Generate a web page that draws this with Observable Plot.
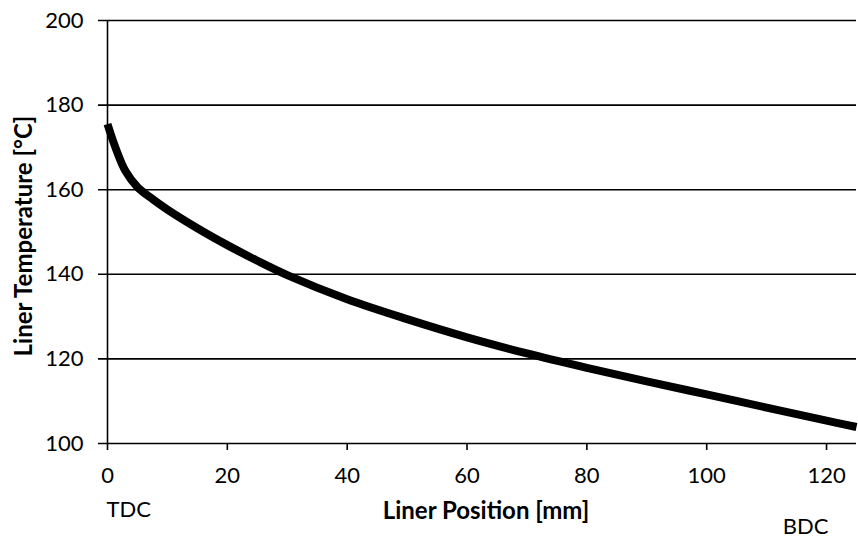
<!DOCTYPE html>
<html>
<head>
<meta charset="utf-8">
<script src="https://cdn.jsdelivr.net/npm/d3@7"></script>
<script src="https://cdn.jsdelivr.net/npm/@observablehq/plot@0.6"></script>
<style>
  html, body { margin: 0; padding: 0; background: #fff; }
  #chart svg { display: block; }
</style>
</head>
<body>
<div id="chart"></div>
<script>
// Liner temperature along the stroke, from TDC (0 mm) to BDC (125 mm)
const linerPosition = [0, 1.5, 3, 5, 7.5, 10, 15, 20, 25, 30, 40, 50, 60, 70, 80, 90, 100, 110, 120, 125];
const linerTemperature = [175.5, 169.3, 164.4, 160.6, 157.8, 155.3, 150.9, 146.9, 143.2, 139.8, 134.1, 129.4, 125.1, 121.3, 117.9, 114.7, 111.6, 108.5, 105.4, 103.9];

const xTicks = [0, 20, 40, 60, 80, 100, 120];
const yTicks = [100, 120, 140, 160, 180, 200];

const data = linerPosition.map((x, i) => ({x, y: linerTemperature[i]}));

const font = "Lato, 'Open Sans', sans-serif";

const chart = Plot.plot({
  width: 858,
  height: 539,
  marginLeft: 107,
  marginRight: 2,
  marginTop: 20,
  marginBottom: 96,
  style: {fontFamily: font, fontSize: "22px", color: "black", background: "white", overflow: "visible"},
  x: {domain: [0, 125]},
  y: {domain: [100, 200]},
  marks: [
    // horizontal gridlines, extended left like the tick marks
    Plot.ruleY(yTicks, {stroke: "black", strokeWidth: 1.6, x1: 0, x2: 125, insetLeft: -9}),
    Plot.ruleX([0], {stroke: "black", strokeWidth: 1.6}),
    Plot.axisX({ticks: xTicks, tickSize: 7, tickPadding: 17, strokeWidth: 1.6, label: null}),
    Plot.axisY({ticks: yTicks, tickSize: 0, tickPadding: 24, label: null}),
    Plot.line(data, {x: "x", y: "y", stroke: "black", strokeWidth: 8, curve: "catmull-rom", strokeLinecap: "butt", strokeLinejoin: "round"}),
    Plot.text(["Liner Position [mm]"], {frameAnchor: "bottom", dx: 4, dy: 75, fontWeight: "bold", fontSize: 24}),
    Plot.text(["TDC"], {frameAnchor: "bottom-left", textAnchor: "start", dx: -1, dy: 73, fontSize: 22}),
    Plot.text(["BDC"], {frameAnchor: "bottom-right", textAnchor: "middle", dx: -51, dy: 90, fontSize: 22}),
    Plot.text(["Liner Temperature [°C]"], {frameAnchor: "left", textAnchor: "middle", rotate: -90, dx: -83, dy: 4, fontWeight: "bold", fontSize: 24})
  ]
});

document.getElementById("chart").appendChild(chart);
</script>
</body>
</html>
